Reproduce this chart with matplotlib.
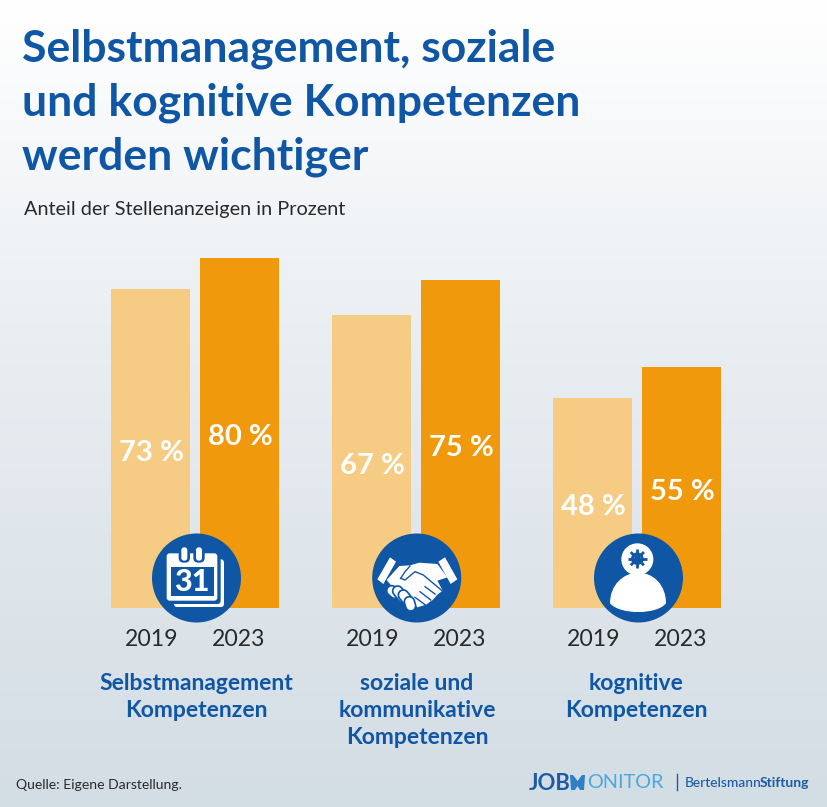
import matplotlib
matplotlib.use("Agg")
import matplotlib.pyplot as plt
import numpy as np
from matplotlib.patches import Circle, FancyBboxPatch, PathPatch, Polygon, Rectangle
from matplotlib.path import Path

plt.rcParams['font.family'] = ['Lato', 'DejaVu Sans']

# data
categories = ['Selbstmanagement\nKompetenzen', 'soziale und\nkommunikative\nKompetenzen', 'kognitive\nKompetenzen']
years = ['2019', '2023']
values_2019 = [73, 67, 48]
values_2023 = [80, 75, 55]

BLUE = '#0f56a5'
LIGHT = '#f6cc84'
ORANGE = '#f1990d'
DARK = '#2a2a2a'

W, H = 828, 807
fig = plt.figure(figsize=(W / 100, H / 100), dpi=100)

# background
bg = fig.add_axes([0, 0, 1, 1], zorder=0)
bg.axis('off')
grad = np.array([[0, 255, 255, 255], [0.1, 250, 251, 252], [0.45, 232, 237, 241], [1, 211, 221, 228]])
t = np.linspace(0, 1, 256)
img = np.stack([np.interp(t, grad[:, 0], grad[:, i]) for i in (1, 2, 3)], axis=1)[:, None, :] / 255
bg.imshow(img, aspect='auto', extent=[0, W, H, 0])

# bars
ax = fig.add_axes([0, (H - 607.5) / H, 1, 349.5 / H], zorder=1)
ax.patch.set_alpha(0)
ax.axis('off')
ax.set_xlim(0, W)
ax.set_ylim(0, 80)
centers = np.array([195, 416, 637])
bw = 79.5
ax.bar(centers - 44.5, values_2019, bw, color=LIGHT)
ax.bar(centers + 44.5, values_2023, bw, color=ORANGE)
for c, a, b in zip(centers, values_2019, values_2023):
    ax.text(c - 44, a / 2 - 1.1, f'{a} %', color='white', fontsize=21, fontweight='bold', ha='center', va='center')
    ax.text(c + 45, b / 2 - 1.0, f'{b} %', color='white', fontsize=21, fontweight='bold', ha='center', va='center')

# text and icons in pixels
ov = fig.add_axes([0, 0, 1, 1], zorder=2)
ov.patch.set_alpha(0)
ov.axis('off')
ov.set_xlim(0, W)
ov.set_ylim(H, 0)

title = ['Selbstmanagement, soziale', 'und kognitive Kompetenzen', 'werden wichtiger']
for y, line in zip([49, 103, 157], title):
    ov.text(22, y, line, color=BLUE, fontsize=32, fontweight='bold', ha='left', va='center')
ov.text(24, 209, 'Anteil der Stellenanzeigen in Prozent', color=DARK, fontsize=14.35, ha='left', va='center')

for c, name, shift in zip(centers, categories, [1.5, 1, -1]):
    ov.text(c - 44 + 1, 640, years[0], color=DARK, fontsize=16.6, ha='center', va='center')
    ov.text(c + 43 + 0.5, 640, years[1], color=DARK, fontsize=16.6, ha='center', va='center')
    ov.text(c + shift, 673.5, name, color=BLUE, fontsize=16.5, fontweight='bold', ha='center', va='top', linespacing=1.34)

ov.text(16, 785, 'Quelle: Eigene Darstellung.', color=DARK, fontsize=10.1, ha='left', va='center')

# logos
ov.text(529, 783, 'JOB', color='#1c5ba6', fontsize=15.8, fontweight='bold', ha='left', va='center')
ov.add_patch(Polygon([(570, 775), (573, 775), (577.5, 781), (582, 775), (585, 775), (584, 790), (580, 790),
                      (577.5, 786), (575, 790), (571, 790)], color='#2f7fc8', lw=0))
ov.text(587, 783, 'ONITOR', color='#4aa8e0', fontsize=14.3, ha='left', va='center')
ov.plot([677.5, 677.5], [774, 790], color='#1c5ba6', lw=1)
ov.text(685, 783, 'Bertelsmann', color='#1c5ba6', fontsize=9.9, fontweight='medium', ha='left', va='center')
ov.text(760, 783, 'Stiftung', color='#1c5ba6', fontsize=10, fontweight='bold', ha='left', va='center')

for cx in (196.5, 416.7, 638.5):
    ov.add_patch(Circle((cx, 578), 44.5, color=BLUE, lw=0))

# calendar icon, coordinates relative to the zoomed crop
def c1(x, y):
    return 100 + x / 3, 520 + y / 3

def rrect(x0, y0, x1, y1, r, **kw):
    a, b = c1(x0, y0), c1(x1, y1)
    ov.add_patch(FancyBboxPatch((a[0] + r, a[1] + r), b[0] - a[0] - 2 * r, b[1] - a[1] - 2 * r,
                                boxstyle=f'round,pad={r}', lw=0, **kw))

rrect(222, 118, 372, 261, 3, color='white')
rrect(212, 110, 362, 252, 3, color=BLUE)
rrect(200, 100, 352, 242, 3, color='white')
a, b = c1(212, 140), c1(342, 228)
ov.add_patch(Rectangle(a, b[0] - a[0], b[1] - a[1], color=BLUE, lw=0))
for zx in (253, 297):
    rrect(zx - 17, 78, zx + 17, 128, 5, color=BLUE)
    rrect(zx - 9, 82, zx + 9, 122, 2.8, color='white')
ov.text(*c1(276, 185), '31', color='white', fontsize=22, fontweight='black', ha='center', va='center')

# handshake icon
def c2(pts):
    return [(360 + x / 3, 520 + y / 3) for x, y in pts]

ov.add_patch(Polygon(c2([(52, 178), (90, 112), (108, 125), (70, 192)]), color='white', lw=0))
ov.add_patch(Polygon(c2([(235, 125), (255, 112), (292, 178), (272, 192)]), color='white', lw=0))
hand = [(80, 180), (118, 138), (150, 136), (178, 128), (232, 132), (262, 172), (232, 182), (248, 212), (232, 224),
        (218, 240), (198, 254), (172, 262), (150, 235), (115, 200), (95, 198)]
ov.add_patch(Polygon(c2(hand), color='white', lw=0))
for p, q in [((95, 212), (104, 220)), ((113, 213), (130, 234)), ((130, 225), (146, 245)), ((148, 245), (152, 258))]:
    ov.plot(*zip(*c2([p, q])), color=BLUE, lw=8.5, solid_capstyle='round')
    ov.plot(*zip(*c2([p, q])), color='white', lw=6, solid_capstyle='round')
blue_lines = [[(122, 175), (135, 180), (165, 155), (190, 165), (246, 212)],
              [(150, 138), (135, 155), (122, 175)],
              [(195, 200), (225, 222)], [(180, 215), (212, 240)], [(165, 232), (195, 254)]]
for line in blue_lines:
    ov.plot(*zip(*c2(line)), color=BLUE, lw=1.0, solid_joinstyle='round')

# person with gear icon
ov.add_patch(Circle(c2([(832, 118)])[0], 16, color='white', lw=0))
gx, gy = c2([(832, 116)])[0]
ov.add_patch(Circle((gx, gy), 6.3, color=BLUE, lw=0))
for ang in np.arange(0, 360, 45):
    r = np.radians(ang)
    ov.plot([gx, gx + 9.3 * np.cos(r)], [gy, gy + 9.3 * np.sin(r)], color=BLUE, lw=2.0, solid_capstyle='butt')
ov.add_patch(Circle((gx, gy), 3.4, color='white', lw=0))
body = c2([(750, 250), (750, 195), (790, 158), (835, 158), (880, 158), (918, 195), (918, 250),
           (890, 285), (780, 285), (750, 250)])
codes = [Path.MOVETO, Path.CURVE4, Path.CURVE4, Path.CURVE4, Path.CURVE4, Path.CURVE4, Path.CURVE4,
         Path.CURVE4, Path.CURVE4, Path.CURVE4]
ov.add_patch(PathPatch(Path(body, codes), color='white', lw=0))

fig.savefig('out.png', dpi=100)
